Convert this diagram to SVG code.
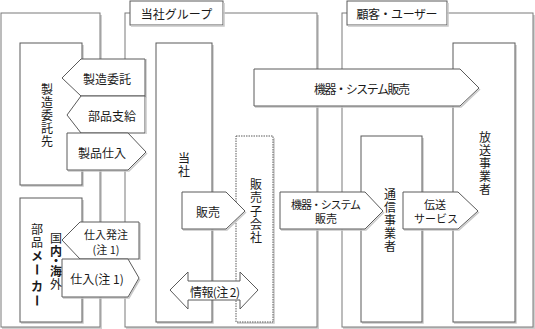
<svg xmlns="http://www.w3.org/2000/svg" width="535" height="329" viewBox="0 0 535 329">
<defs>
<style>
.frame{fill:#fff;stroke:#7a7a7a;stroke-width:1}
.fsh{fill:none;stroke:#cfcfcf;stroke-width:2}
.box{fill:#fff;stroke:#5a5a5a;stroke-width:1}
.dot{fill:#fff;stroke:#5a5a5a;stroke-width:1;stroke-dasharray:1.5 1}
.sh{fill:none;stroke:#c8c8c8;stroke-width:1.5}
.arr{fill:#fff;stroke:#5a5a5a;stroke-width:1;stroke-linejoin:miter}
.lbl{fill:#fff;stroke:#5a5a5a;stroke-width:1}
text{font-family:"Noto Sans CJK JP","Noto Sans",sans-serif;font-size:12px;fill:#1a1a1a}
.c{text-anchor:middle;dominant-baseline:central}
.t{font-size:11px}
.b{font-weight:bold}
</style>
</defs>

<g id="frame-suppliers">
<path class="fsh" d="M101,15 V328 H2"/>
<rect class="frame" x="1" y="13" width="99" height="314"/>
</g>
<g id="frame-group">
<path class="fsh" d="M318,15 V328 H126"/>
<rect class="frame" x="125" y="13" width="192" height="314"/>
<rect class="lbl" x="130" y="1" width="93" height="24"/>
<path class="sh" d="M224,3 V26 H131"/>
<text class="c" x="176.5" y="13" font-size="12.5">当社グループ</text>
</g>
<g id="frame-customers">
<path class="fsh" d="M534,15 V328 H343"/>
<rect class="frame" x="342" y="13" width="191" height="314"/>
<rect class="lbl" x="347" y="1" width="100" height="24"/>
<path class="sh" d="M448,3 V26 H348"/>
<text class="c" x="397" y="13" textLength="81" lengthAdjust="spacing">顧客・ユーザー</text>
</g>

<g id="contractor">
<path class="sh" d="M83,45 V186 H21"/>
<rect class="box" x="20" y="43" width="62" height="142"/>
<text class="c"><tspan x="47" y="88">製</tspan><tspan x="47" y="101">造</tspan><tspan x="47" y="114">委</tspan><tspan x="47" y="127">託</tspan><tspan x="47" y="140">先</tspan></text>
</g>
<g id="parts-maker">
<path class="sh" d="M83,200 V323 H21"/>
<rect class="box" x="20" y="198" width="62" height="124"/>
<text class="c"><tspan x="37" y="228">部</tspan><tspan x="37" y="241">品</tspan><tspan class="b" x="37" y="255">メ</tspan></text>
<text class="c b" x="37" y="269.5" transform="rotate(90 37 269.5)">ー</text>
<text class="c b" x="37" y="285">カ</text>
<text class="c b" x="37" y="300.5" transform="rotate(90 37 300.5)">ー</text>
<text class="c" font-size="11.5"><tspan x="56" y="237">国</tspan><tspan class="b" x="56" y="250">内</tspan><tspan class="b" x="56" y="260">・</tspan><tspan class="b" x="56" y="270">海</tspan><tspan x="56" y="283">外</tspan></text>
</g>
<g id="company">
<path class="sh" d="M213,45 V323 H157"/>
<rect class="box" x="156" y="43" width="56" height="279"/>
<text class="c"><tspan x="184" y="157">当</tspan><tspan x="184" y="170">社</tspan></text>
</g>
<g id="sales-sub">
<path class="sh" d="M274,138 V323 H237"/>
<rect class="dot" x="236" y="136" width="37" height="186"/>
<text class="c" font-size="12.5"><tspan x="256" y="183">販</tspan><tspan x="256" y="196">売</tspan><tspan x="256" y="209.5">子</tspan><tspan x="256" y="223">会</tspan><tspan x="256" y="236">社</tspan></text>
</g>
<g id="telecom">
<path class="sh" d="M423,138 V323 H362"/>
<rect class="box" x="361" y="136" width="61" height="186"/>
<text class="c"><tspan x="390" y="193">通</tspan><tspan x="390" y="206">信</tspan><tspan x="390" y="219">事</tspan><tspan x="390" y="232">業</tspan><tspan x="390" y="245">者</tspan></text>
</g>
<g id="broadcaster">
<path class="sh" d="M516,45 V323 H454"/>
<rect class="box" x="453" y="43" width="62" height="279"/>
<text class="c"><tspan x="485" y="136">放</tspan><tspan x="485" y="149">送</tspan><tspan x="485" y="162">事</tspan><tspan x="485" y="175">業</tspan><tspan x="485" y="188">者</tspan></text>
</g>

<g id="connectors">
<polygon class="sh" points="146,60 146,97 82,97"/>
<polygon class="arr" points="145,59 81,59 62,78 81,96 145,96"/>
<text class="c" x="107" y="78">製造委託</text>

<polygon class="arr" points="145,96 81,96 67,115 81,133 145,133"/>
<path class="sh" d="M146,97 V134"/>
<text class="c" x="112" y="115">部品支給</text>

<path class="sh" d="M68,171 H129 L147,153"/>
<polygon class="arr" points="67,133 128,133 146,152 128,170 67,170"/>
<text class="c" x="102" y="152">製品仕入</text>

<path class="sh" d="M140,223 V260"/>
<polygon class="arr" points="139,222 80,222 62,240 80,259 139,259"/>
<text class="c t" x="106" y="234">仕入発注</text>
<text class="c t" x="106" y="248.5">(注 1)</text>

<path class="sh" d="M63,298 H129 L140,279"/>
<polygon class="arr" points="62,259 128,259 139,278 128,297 62,297"/>
<text class="c" x="97" y="278">仕入(注 1)</text>

<path class="sh" d="M183,230 H227 L246,212"/>
<polygon class="arr" points="182,192 226,192 245,211 226,229 182,229"/>
<text class="c" x="208" y="211">販売</text>

<polygon class="arr" points="170,290 188,272 188,281 240,281 240,272 258,290 240,309 240,300 188,300 188,309"/>
<text class="c" x="215" y="291" textLength="50" lengthAdjust="spacing">情報(注 2)</text>

<path class="sh" d="M255,107 H461 L480,89"/>
<polygon class="arr" points="254,69 460,69 479,88 460,106 254,106"/>
<text class="c" x="362" y="88" textLength="96" lengthAdjust="spacing">機器・システム販売</text>

<path class="sh" d="M281,230 H366 L384,212"/>
<polygon class="arr" points="280,192 365,192 383,211 365,229 280,229"/>
<text class="c t" x="326" y="203.5" textLength="70" lengthAdjust="spacing">機器・システム</text>
<text class="c t" x="326" y="218">販売</text>

<path class="sh" d="M404,230 H459 L479,212"/>
<polygon class="arr" points="403,192 458,192 478,211 458,229 403,229"/>
<text class="c t" x="435" y="203.5">伝送</text>
<text class="c t" x="436" y="218">サービス</text>
</g>
</svg>
